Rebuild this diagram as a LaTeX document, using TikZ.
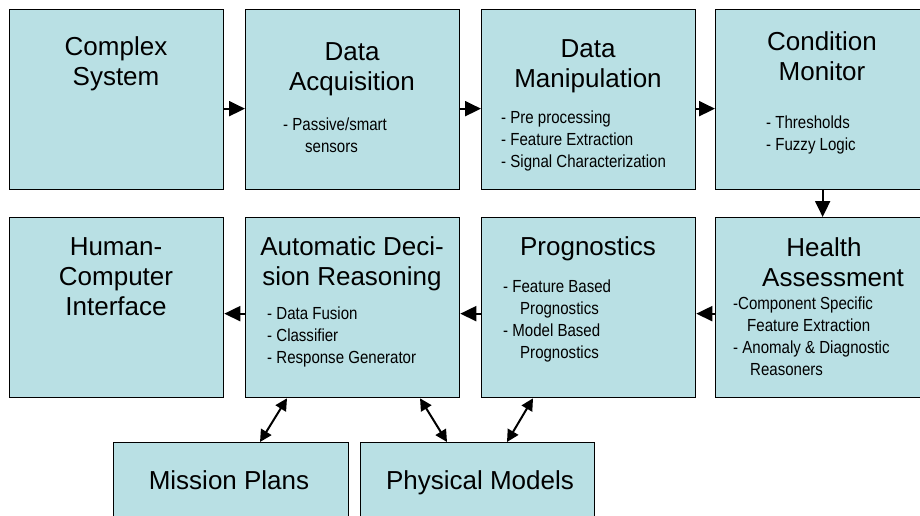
\documentclass[tikz,border=0pt]{standalone}
\usepackage{fontspec}
\setmainfont{Liberation Sans}
\newfontfamily\narrowsf[FakeStretch=0.86]{Liberation Sans}
\usetikzlibrary{arrows.meta}
\definecolor{boxfill}{RGB}{185,224,228}
\begin{document}
\begin{tikzpicture}[x=1pt,y=-1pt,
 box/.style={draw=black, line width=1.3pt, fill=boxfill, minimum width=214pt, minimum height=180pt, anchor=north west, inner sep=0pt},
 lowbox/.style={box, minimum width=235pt, minimum height=100pt},
 ttl/.style={anchor=north, align=center, inner sep=0pt, font=\fontsize{26}{30}\selectfont},
 ttlb/.style={anchor=base, inner sep=0pt, font=\fontsize{26}{30}\selectfont},
 blt/.style={anchor=north west, align=left, inner sep=0pt, font=\narrowsf\fontsize{17.5}{22}\selectfont},
 flow/.style={line width=2pt, -{Triangle[length=16pt,width=15pt]}},
 link/.style={line width=2pt, {Triangle[length=12pt,width=12pt]}-{Triangle[length=12pt,width=12pt]}}
]
\useasboundingbox (0,0) rectangle (920,515);
\clip (0,0) rectangle (920,515);
\fill[white] (0,0) rectangle (920,515);

% row 1
\node[box] (cs) at (9,9) {};
\node[box] (da) at (245,9) {};
\node[box] (dm) at (481,9) {};
\node[box] (cm) at (715,9) {};
% row 2
\node[box] (hci) at (9,217) {};
\node[box] (adr) at (245,217) {};
\node[box] (prog) at (481,217) {};
\node[box] (ha) at (715,217) {};
% row 3
\node[lowbox] (mp) at (113,442) {};
\node[lowbox, minimum width=234pt] (pm) at (360,442) {};

% titles
\node[ttl] (tcs) at (116,34) {\strut Complex\\System};
\node[ttl] (tda) at (352,39) {\strut Data\\Acquisition};
\node[ttl] (tdm) at (588,36) {\strut Data\\Manipulation};
\node[ttl] (tcm) at (822,29) {\strut Condition\\Monitor};
\node[ttl] (thci) at (116,234) {\strut Human-\\Computer\\Interface};
\node[ttl] (tadr) at (352,234) {\strut Automatic Deci-\\sion Reasoning};
\node[ttl] (tprog) at (588,234) {\strut Prognostics};
\node[ttl] (tha) at (824,235) {\strut Health\\\hspace*{18pt}Assessment};
\node[ttlb] (tmp) at (229,489) {Mission Plans};
\node[ttlb] (tpm) at (480,489) {Physical Models};

% bullets
\node[blt] (bda) at (283,114.6) {\strut - Passive/smart\\\hspace*{22pt}sensors};
\node[blt] (bdm) at (501,107.6) {\strut - Pre processing\\- Feature Extraction\\- Signal Characterization};
\node[blt] (bcm) at (766,112.6) {\strut - Thresholds\\- Fuzzy Logic};
\node[blt] (badr) at (267,303.6) {\strut - Data Fusion\\- Classifier\\- Response Generator};
\node[blt] (bprog) at (503,276.6) {\strut - Feature Based\\\hspace*{17pt}Prognostics\\- Model Based\\\hspace*{17pt}Prognostics};
\node[blt] (bha) at (733,293.6) {\strut -Component Specific\\\hspace*{14pt}Feature Extraction\\- Anomaly \& Diagnostic\\\hspace*{17pt}Reasoners};

% flow arrows
\draw[flow] ([yshift=-9pt]cs.east) -- ([yshift=-9pt]da.west);
\draw[flow] ([yshift=-9pt]da.east) -- ([yshift=-9pt]dm.west);
\draw[flow] ([yshift=-9pt]dm.east) -- ([yshift=-9pt]cm.west);
\draw[flow] (cm.south) -- (ha.north);
\draw[flow] ([yshift=-6pt]ha.west) -- ([yshift=-6pt]prog.east);
\draw[flow] ([yshift=-6pt]prog.west) -- ([yshift=-6pt]adr.east);
\draw[flow] ([yshift=-6pt]adr.west) -- ([yshift=-6pt]hci.east);

% double arrows
\draw[link] ([xshift=42pt]adr.south west) -- ([xshift=147pt]mp.north west);
\draw[link] ([xshift=175pt]adr.south west) -- ([xshift=87pt]pm.north west);
\draw[link] ([xshift=52pt]prog.south west) -- ([xshift=147pt]pm.north west);
\end{tikzpicture}
\end{document}
